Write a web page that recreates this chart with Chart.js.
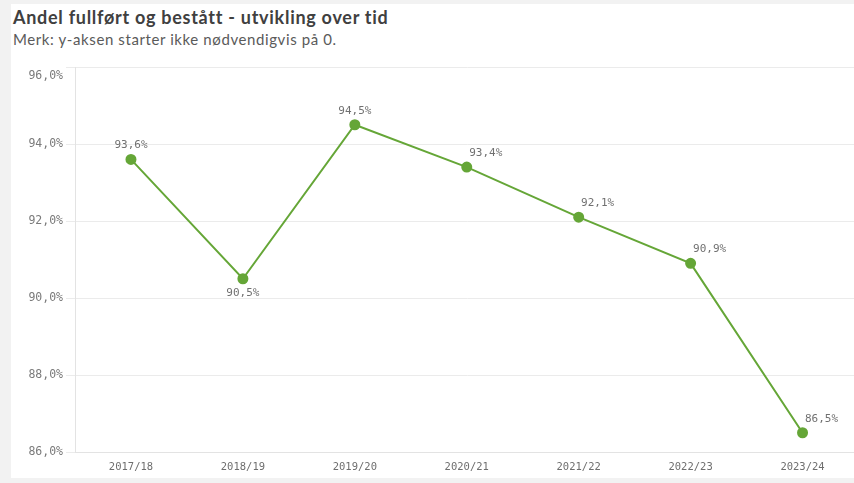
<!DOCTYPE html>
<html>
<head>
<meta charset="utf-8">
<script src="https://cdn.jsdelivr.net/npm/chart.js@4"></script>
<style>
  html, body { margin: 0; padding: 0; width: 854px; height: 483px; overflow: hidden; background: #f2f2f2; }
  #panel { position: absolute; left: 11px; top: 4px; width: 900px; height: 474px; background: #ffffff; }
  #title { position: absolute; left: 2px; top: 2px; font: bold 18px Lato, sans-serif; letter-spacing: 0.72px; color: #404040; white-space: nowrap; }
  #subtitle { position: absolute; left: 2px; top: 26px; font: 15px Lato, sans-serif; letter-spacing: 0.6px; color: #5a5a5a; white-space: nowrap; }
  #wrap { position: absolute; left: 0; top: 0; width: 854px; height: 474px; }
</style>
</head>
<body>
<div id="panel">
  <div id="title">Andel fullført og bestått - utvikling over tid</div>
  <div id="subtitle">Merk: y-aksen starter ikke nødvendigvis på 0.</div>
  <div id="wrap"><canvas id="c"></canvas></div>
</div>
<script>
const categories = ["2017/18", "2018/19", "2019/20", "2020/21", "2021/22", "2022/23", "2023/24"];
const values = [93.6, 90.5, 94.5, 93.4, 92.1, 90.9, 86.5];
const yMin = 86, yMax = 96, yStep = 2;

const GREEN = "#65a637";
const fmt = v => v.toFixed(1).replace(".", ",") + "%";
const MONO = "'DejaVu Sans Mono', monospace";

const labelPlugin = {
  id: "pointLabels",
  afterDatasetsDraw(chart) {
    const ctx = chart.ctx;
    const meta = chart.getDatasetMeta(0);
    const data = chart.data.datasets[0].data;
    ctx.save();
    ctx.font = "11px " + MONO;
    ctx.fillStyle = "#707070";
    ctx.textAlign = "center";
    ctx.textBaseline = "middle";
    meta.data.forEach((pt, i) => {
      const v = data[i];
      const prev = i > 0 ? data[i - 1] : null;
      const next = i < data.length - 1 ? data[i + 1] : null;
      const isValley = prev !== null && next !== null && prev > v && next > v;
      const descending = prev !== null && prev > v && (next === null || next < v);
      let x = pt.x, y = pt.y - 14;
      if (isValley) { y = pt.y + 14; }
      else if (descending) { x = pt.x + 19; }
      ctx.fillText(fmt(v), x, y);
    });
    ctx.restore();
  }
};

new Chart(document.getElementById("c"), {
  type: "line",
  data: {
    labels: categories,
    datasets: [{
      data: values,
      borderColor: GREEN,
      backgroundColor: GREEN,
      borderWidth: 2,
      pointRadius: 4.5,
      pointHoverRadius: 4.5,
      pointBackgroundColor: GREEN,
      pointBorderColor: GREEN,
      tension: 0,
      clip: false
    }]
  },
  options: {
    responsive: true,
    maintainAspectRatio: false,
    animation: false,
    events: [],
    layout: { padding: { top: 63, left: 0, right: 0, bottom: 0 } },
    plugins: { legend: { display: false }, tooltip: { enabled: false } },
    scales: {
      x: {
        offset: true,
        grid: { display: false, drawTicks: false },
        border: { display: true, color: "#e3e3e3", width: 1 },
        ticks: { font: { family: MONO, size: 10.5 }, color: "#6e6e6e", padding: 9, maxRotation: 0, autoSkip: false },
        afterFit(s) { s.height = 26; }
      },
      y: {
        min: yMin, max: yMax,
        grid: { color: "#ebebeb", lineWidth: 1, tickLength: 9, drawTicks: true, tickColor: "#ebebeb" },
        border: { display: true, color: "#e3e3e3", width: 1 },
        ticks: {
          stepSize: yStep,
          font: { family: MONO, size: 11.5, lineHeight: 1.6 },
          color: "#7a7a7a",
          padding: 3,
          callback: v => (v === yMax ? ["", fmt(v)] : fmt(v))
        },
        afterFit(s) { s.width = 64; }
      }
    }
  },
  plugins: [labelPlugin]
});
</script>
</body>
</html>
